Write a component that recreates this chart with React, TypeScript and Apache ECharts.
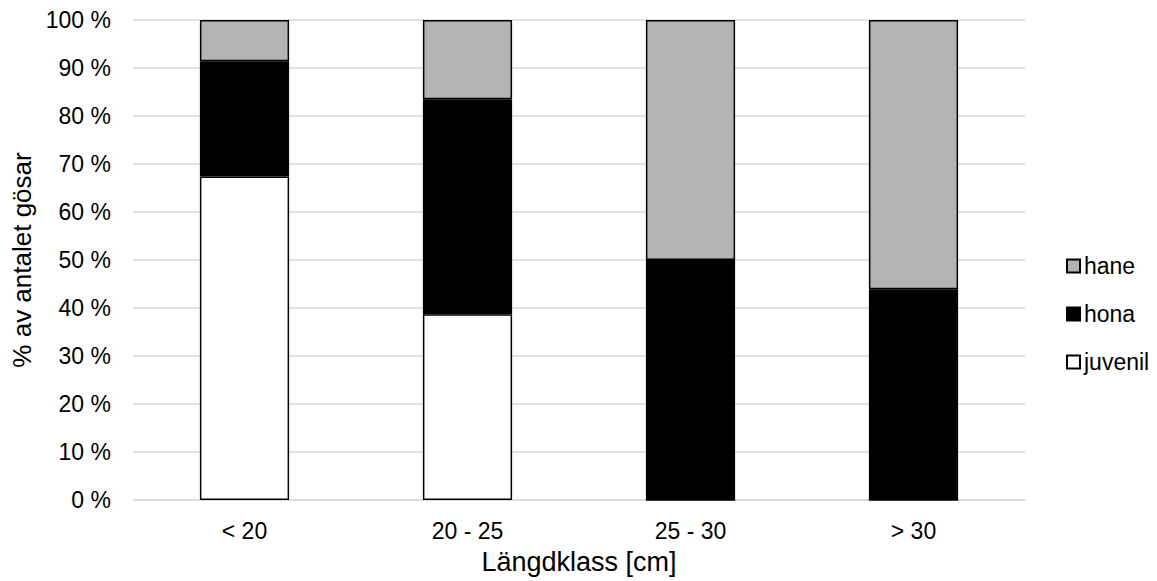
import React, { useEffect, useRef } from "react";
import * as echarts from "echarts";

const categories = ["< 20", "20 - 25", "25 - 30", "> 30"];
const juvenil = [67.4, 38.7, 0, 0];
const hona = [24.0, 44.8, 50.0, 43.9];
const hane = [8.6, 16.5, 50.0, 56.1];
const yTicks = [0, 10, 20, 30, 40, 50, 60, 70, 80, 90, 100];

const FONT = "Liberation Sans, Arial, sans-serif";

export default function App() {
  const ref = useRef<HTMLDivElement>(null);
  useEffect(() => {
    if (!ref.current) return;
    const chart = echarts.init(ref.current, null, { renderer: "svg" });
    const border = { borderColor: "#000", borderWidth: 1.5 };
    chart.setOption({
      animation: false,
      backgroundColor: "#fff",
      textStyle: { fontFamily: FONT, color: "#000" },
      grid: { left: 133, right: 132, top: 20, bottom: 81, containLabel: false },
      legend: {
        orient: "vertical",
        left: 1066,
        top: 254,
        padding: 0,
        icon: "rect",
        itemWidth: 13,
        itemHeight: 13,
        itemGap: 24,
        data: ["hane", "hona", "juvenil"],
        textStyle: { fontSize: 23, color: "#000", fontFamily: FONT, padding: [0, 0, 0, -1], lineHeight: 24 },
      },
      xAxis: {
        type: "category",
        data: categories,
        axisLine: { show: true, lineStyle: { color: "#d9d9d9", width: 1.5 } },
        axisTick: { show: false },
        axisLabel: { fontSize: 23, color: "#000", margin: 19, fontFamily: FONT },
        name: "Längdklass [cm]",
        nameLocation: "middle",
        nameGap: 48,
        nameTextStyle: { fontSize: 27, color: "#000", fontFamily: FONT },
      },
      yAxis: {
        type: "value",
        min: yTicks[0],
        max: yTicks[yTicks.length - 1],
        interval: 10,
        axisLine: { show: false },
        axisTick: { show: false },
        splitLine: { lineStyle: { color: "#d9d9d9", width: 1.5 } },
        axisLabel: { fontSize: 23, color: "#000", margin: 22, formatter: "{value} %", fontFamily: FONT },
        name: "% av antalet gösar",
        nameLocation: "middle",
        nameRotate: 90,
        nameGap: 96,
        nameTextStyle: { fontSize: 26, color: "#000", fontFamily: FONT },
      },
      series: [
        { name: "juvenil", type: "bar", stack: "s", barWidth: "40%", data: juvenil, itemStyle: { color: "#ffffff", ...border } },
        { name: "hona", type: "bar", stack: "s", barWidth: "40%", data: hona, itemStyle: { color: "#000000", ...border } },
        { name: "hane", type: "bar", stack: "s", barWidth: "40%", data: hane, itemStyle: { color: "#b3b3b3", ...border } },
      ],
    });
    return () => chart.dispose();
  }, []);
  return <div ref={ref} style={{ width: 1157, height: 581, position: "absolute", left: 0, top: 0 }} />;
}
